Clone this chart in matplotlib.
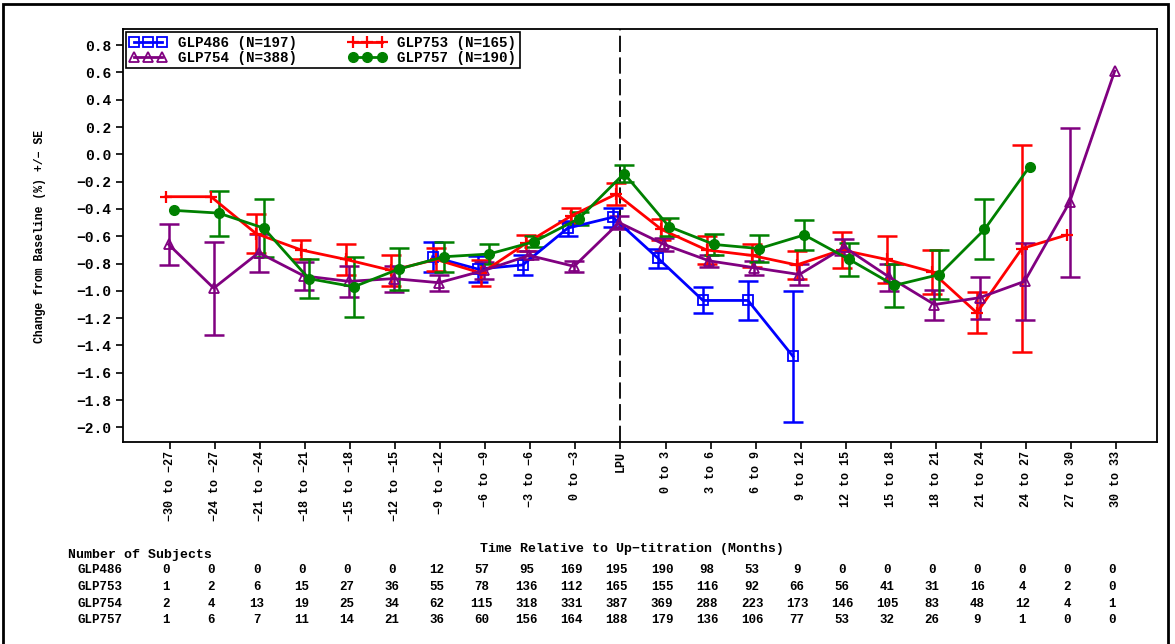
import matplotlib

matplotlib.use("Agg")
import matplotlib.pyplot as plt
import matplotlib.transforms as mtransforms
from matplotlib.patches import Rectangle
import numpy as np

nan = np.nan

PERIODS = [
    "\u221230 to \u221227", "\u221224 to \u221227", "\u221221 to \u221224", "\u221218 to \u221221",
    "\u221215 to \u221218", "\u221212 to \u221215", "\u22129 to \u221212", "\u22126 to \u22129",
    "\u22123 to \u22126", "0 to \u22123", "LPU", "0 to 3", "3 to 6", "6 to 9", "9 to 12",
    "12 to 15", "15 to 18", "18 to 21", "21 to 24", "24 to 27", "27 to 30", "30 to 33",
]

GLP486_MEAN = [nan, nan, nan, nan, nan, nan, -0.75, -0.84, -0.81, -0.54, -0.46,
               -0.76, -1.07, -1.07, -1.48, nan, nan, nan, nan, nan, nan, nan]
GLP486_SE = [nan, nan, nan, nan, nan, nan, 0.11, 0.095, 0.07, 0.055, 0.07,
             0.07, 0.095, 0.14, 0.48, nan, nan, nan, nan, nan, nan, nan]

GLP753_MEAN = [-0.31, -0.31, -0.58, -0.70, -0.77, -0.85, -0.77, -0.87, -0.65, -0.45, -0.29,
               -0.55, -0.70, -0.74, -0.81, -0.70, -0.77, -0.86, -1.16, -0.69, -0.59, nan]
GLP753_SE = [nan, nan, 0.145, 0.07, 0.11, 0.115, 0.085, 0.095, 0.06, 0.055, 0.08,
             0.075, 0.105, 0.085, 0.10, 0.135, 0.17, 0.16, 0.15, 0.76, nan, nan]

GLP754_MEAN = [-0.66, -0.98, -0.72, -0.89, -0.93, -0.91, -0.94, -0.85, -0.74, -0.82, -0.50,
               -0.66, -0.78, -0.83, -0.88, -0.68, -0.90, -1.10, -1.05, -0.93, -0.35, 0.61]
GLP754_SE = [0.15, 0.34, 0.14, 0.105, 0.115, 0.095, 0.06, 0.065, 0.03, 0.04, 0.045,
             0.05, 0.045, 0.05, 0.075, 0.06, 0.10, 0.11, 0.155, 0.28, 0.545, nan]

GLP757_MEAN = [-0.41, -0.43, -0.54, -0.91, -0.97, -0.84, -0.75, -0.73, -0.64, -0.47, -0.14,
               -0.53, -0.66, -0.69, -0.59, -0.77, -0.96, -0.88, -0.55, -0.09, nan, nan]
GLP757_SE = [nan, 0.165, 0.215, 0.145, 0.22, 0.155, 0.11, 0.07, 0.04, 0.05, 0.06,
             0.065, 0.08, 0.10, 0.11, 0.12, 0.155, 0.18, 0.22, nan, nan, nan]

GLP486_N = [0, 0, 0, 0, 0, 0, 12, 57, 95, 169, 195, 190, 98, 53, 9, 0, 0, 0, 0, 0, 0, 0]
GLP753_N = [1, 2, 6, 15, 27, 36, 55, 78, 136, 112, 165, 155, 116, 92, 66, 56, 41, 31, 16, 4, 2, 0]
GLP754_N = [2, 4, 13, 19, 25, 34, 62, 115, 318, 331, 387, 369, 288, 223, 173, 146, 105, 83, 48, 12, 4, 1]
GLP757_N = [1, 6, 7, 11, 14, 21, 36, 60, 156, 164, 188, 179, 136, 106, 77, 53, 32, 26, 9, 1, 0, 0]

GROUPS = ["GLP486", "GLP753", "GLP754", "GLP757"]
GROUP_TOTALS = [197, 165, 388, 190]

plt.rcParams["font.family"] = ["Liberation Mono", "DejaVu Sans Mono"]
plt.rcParams["font.weight"] = "bold"

STYLE = {
    "GLP486": dict(color="#0000ff", marker="s", mfc="none", ms=7, mew=1.3, shift=-0.17),
    "GLP753": dict(color="#ff0000", marker="+", mfc="#ff0000", ms=9, mew=1.6, shift=-0.09),
    "GLP754": dict(color="#800080", marker="^", mfc="none", ms=7, mew=1.3, shift=-0.03),
    "GLP757": dict(color="#008000", marker="o", mfc="#008000", ms=7, mew=1.0, shift=0.08),
}


def tick_fmt(value, _pos):
    value = round(value, 1) + 0.0
    return f"{value:.1f}".replace("-", "\u2212")


def main() -> None:
    fig = plt.figure(figsize=(11.75, 6.44), dpi=100)
    ax = fig.add_axes([0.1047, 0.3141, 0.88, 0.6401])
    x = np.arange(len(PERIODS), dtype=float)

    series = {
        "GLP486": (GLP486_MEAN, GLP486_SE),
        "GLP753": (GLP753_MEAN, GLP753_SE),
        "GLP754": (GLP754_MEAN, GLP754_SE),
        "GLP757": (GLP757_MEAN, GLP757_SE),
    }
    handles = {}
    for name, total in zip(GROUPS, GROUP_TOTALS):
        mean, se = series[name]
        st = STYLE[name]
        xs = x + st["shift"]
        ax.errorbar(xs, mean, yerr=se, fmt="none", ecolor=st["color"],
                    elinewidth=1.8, capsize=7, capthick=1.8, zorder=2)
        line, = ax.plot(xs, mean, color=st["color"], lw=2.0, marker=st["marker"],
                        mfc=st["mfc"], mec=st["color"], ms=st["ms"], mew=st["mew"],
                        label=f"{name} (N={total})", zorder=3)
        handles[name] = line

    ax.axvline(PERIODS.index("LPU"), color="black", lw=1.3, dashes=(9, 3), zorder=1)

    ax.set_xlim(-1.043, 21.91)
    ax.set_ylim(-2.105, 0.915)
    ax.set_yticks(np.round(np.arange(-2.0, 0.81, 0.2), 1))
    ax.yaxis.set_major_formatter(plt.FuncFormatter(tick_fmt))
    ax.set_xticks(x)
    ax.set_xticklabels(PERIODS, rotation=90, fontsize=8.5, fontweight="bold")
    ax.tick_params(axis="y", labelsize=10.5, length=5, width=1.2)
    ax.tick_params(axis="x", length=5, width=1.2, pad=2)
    for spine in ax.spines.values():
        spine.set_linewidth(1.3)

    order = ["GLP486", "GLP754", "GLP753", "GLP757"]
    leg = ax.legend([handles[k] for k in order], [handles[k].get_label() for k in order],
                    ncol=2, loc="upper left", fontsize=10.3, numpoints=3,
                    handlelength=2.6, handletextpad=0.8, columnspacing=3.6,
                    labelspacing=0.05, borderpad=0.25, borderaxespad=0.2,
                    fancybox=False, framealpha=1, edgecolor="black")
    leg.get_frame().set_linewidth(1.2)

    fig.text(40 / 1175, 1 - 236 / 644, "Change from Baseline (%) +/\u2212 SE",
             rotation=90, ha="center", va="center", fontsize=8.3, fontweight="bold")
    fig.text(632 / 1175, 1 - 549 / 644, "Time Relative to Up\u2212titration (Months)",
             ha="center", va="center", fontsize=9.5, fontweight="bold")
    fig.text(68 / 1175, 1 - 555 / 644, "Number of Subjects",
             ha="left", va="center", fontsize=9.5, fontweight="bold")

    # subject counts under each period, aligned with the x categories
    blend = mtransforms.blended_transform_factory(ax.transData, fig.transFigure)
    counts = [GLP486_N, GLP753_N, GLP754_N, GLP757_N]
    row_y = [570, 587, 604, 620]
    for name, row, yy in zip(GROUPS, counts, row_y):
        fy = 1 - yy / 644
        fig.text(78 / 1175, fy, name, ha="left", va="center", fontsize=9, fontweight="bold")
        for xi, n in zip(x, row):
            ax.text(xi - 0.08, fy, str(n), transform=blend, ha="center", va="center",
                    fontsize=9, fontweight="bold")

    fig.patches.append(Rectangle((3 / 1175, -0.02), 1165 / 1175, 1.02 - 4 / 644,
                                 transform=fig.transFigure, fill=False,
                                 edgecolor="black", lw=2.0))

    fig.savefig("out.png", dpi=100)
    plt.close(fig)


if __name__ == "__main__":
    main()
